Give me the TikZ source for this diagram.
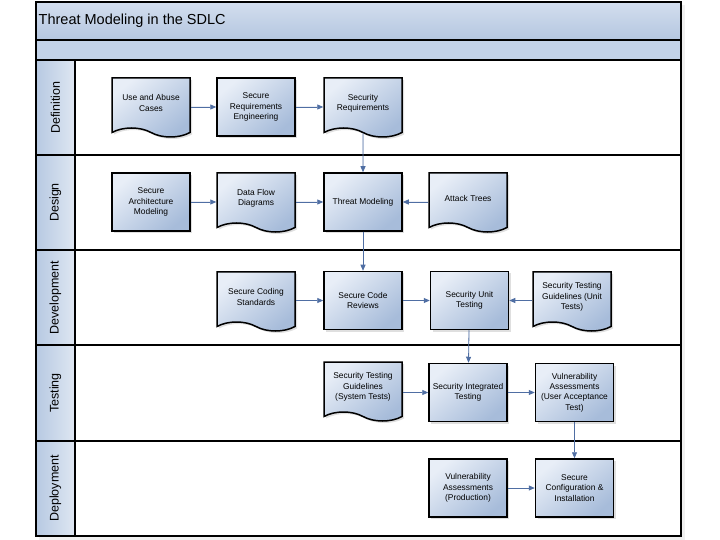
\documentclass[tikz,border=0pt]{standalone}
\usepackage{fontspec}
\setmainfont{Liberation Sans}
\usetikzlibrary{arrows.meta,positioning,shapes.symbols,shadows}

\definecolor{bandtop}{HTML}{D3DEEE}
\definecolor{bandbot}{HTML}{B4C6E0}
\definecolor{bandmid}{HTML}{C3D3E9}
\definecolor{lanecol}{HTML}{B7C9E2}
\definecolor{boxlight}{HTML}{E8EEF7}
\definecolor{boxdark}{HTML}{A7BCDA}
\definecolor{flow}{HTML}{4F6EA3}

\begin{document}
\begin{tikzpicture}[
		x=1bp, y=-1bp,
		>={Triangle[width=5bp,length=6bp]},
		node distance=27bp,
		every node/.style={font=\fontsize{8.4bp}{10.3bp}\selectfont},
		procbox/.style={draw, line width=1.5bp, align=center, inner sep=1bp, minimum width=78bp, minimum height=58bp, top color=boxlight, bottom color=boxdark, shading angle=40, drop shadow={shadow xshift=2bp, shadow yshift=-2bp, opacity=0.25}},
		docbox/.style={procbox, tape, tape bend top=none, tape bend bottom=out and in, tape bend height=9bp, minimum height=59bp},
		lanelabel/.style={rotate=90, font=\fontsize{12.5bp}{14bp}\selectfont},
		flowline/.style={->, draw=flow, fill=flow!85!white, line width=0.8bp}
		]
		\useasboundingbox (0,0) rectangle (720,540);
		
		% frame and lanes
		\fill[black!6] (39,5) rectangle (685,540);
		\shade[top color=bandtop, bottom color=bandbot] (36,2) rectangle (681,40);
		\fill[bandmid] (36,40) rectangle (681,60);
		\fill[white] (75,60) rectangle (681,536);
		\shade[left color=lanecol, right color=lanecol!45!white] (36,60) rectangle (75,536);
		\draw[line width=2.2bp] (36,2) rectangle (681,536);
		\foreach \y in {40,60,155,250,345,441}
			\draw[line width=2bp] (36,\y) -- (681,\y);
		\draw[line width=2bp] (75,60) -- (75,536);
		
		\node[anchor=west, inner sep=0, font=\fontsize{14.5bp}{17bp}\selectfont] (title) at (38.5,21) {Threat Modeling in the SDLC};
		\foreach \lane/\y in {Definition/107.5, Design/202.5, Development/297.5, Testing/393, Deployment/488.5}
			\node[lanelabel] (lane\lane) at (55.5,\y) {\lane};
		
		% Definition
		\node[docbox] (useabuse) at (151,103) {Use and Abuse\\Cases};
		\node[procbox] (reqeng) at (256,107) {Secure\\Requirements\\Engineering};
		\node[docbox] (secreq) at (363,103) {Security\\Requirements};
		
		% Design
		\node[procbox] (secarch) at (151,202) {Secure\\Architecture\\Modeling};
		\node[docbox] (dataflow) at (256,198) {Data Flow\\Diagrams};
		\node[procbox] (threatmod) at (363,202) {Threat Modeling};
		\node[docbox] (attack) at (468,198) {Attack Trees};
		
		% Development
		\node[docbox] (coding) at (256,297) {Secure Coding\\Standards};
		\node[procbox] (codereview) at (363,300.5) {Secure Code\\Reviews};
		\node[procbox, right=of codereview] (unittest) {Security Unit\\Testing};
		\node[docbox] (unitguide) at (572,297) {Security Testing\\Guidelines (Unit\\Tests)};
		
		% Testing
		\node[docbox] (sysguide) at (363,387) {Security Testing\\Guidelines\\(System Tests)};
		\node[procbox] (integtest) at (468,392.5) {Security Integrated\\Testing};
		\node[procbox, right=of integtest] (vulnuat) {Vulnerability\\Assessments\\(User Acceptance\\Test)};
		
		% Deployment
		\node[procbox] (vulnprod) at (468,488) {Vulnerability\\Assessments\\(Production)};
		\node[procbox, right=of vulnprod] (secconfig) {Secure\\Configuration \&\\Installation};
		
		\draw[flowline] (useabuse.east |- reqeng) -- (reqeng);
		\draw[flowline] (reqeng) -- (secreq.west |- reqeng);
		\draw[flowline] (secreq) -- (threatmod);
		\draw[flowline] (secarch) -- (dataflow.west |- secarch);
		\draw[flowline] (dataflow.east |- threatmod) -- (threatmod);
		\draw[flowline] (attack.west |- threatmod) -- (threatmod);
		\draw[flowline] (threatmod) -- (codereview);
		\draw[flowline] (coding.east |- codereview) -- (codereview);
		\draw[flowline] (codereview) -- (unittest);
		\draw[flowline] (unitguide.west |- unittest) -- (unittest);
		\draw[flowline] (unittest) -- (integtest);
		\draw[flowline] (sysguide.east |- integtest) -- (integtest);
		\draw[flowline] (integtest) -- (vulnuat);
		\draw[flowline] (vulnuat) -- (secconfig);
		\draw[flowline] (vulnprod) -- (secconfig);
		
	\end{tikzpicture}
\end{document}
